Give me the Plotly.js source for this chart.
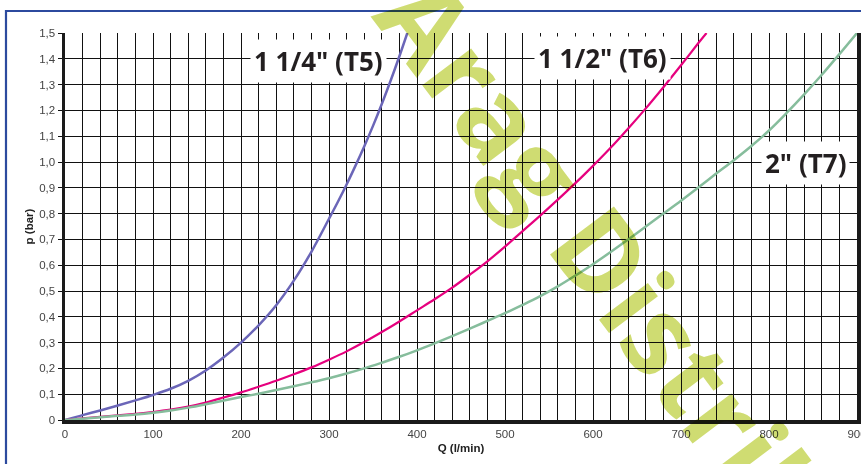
<!DOCTYPE html>
<html>
<head>
<meta charset="utf-8">
<script src="https://cdn.plot.ly/plotly-3.0.1.min.js"></script>
<style>
html,body{margin:0;padding:0;background:#fff;}
#chart{width:861px;height:464px;}
</style>
</head>
<body>
<div id="chart"></div>
<script>
// Series: 1 1/4" (T5)
var qT5 = [0,20,40,60,80,100,120,140,160,180,200,220,240,260,280,300,310,320,330,340,350,360,370,380,389];
var pT5 = [0,0.019,0.037,0.056,0.076,0.097,0.121,0.152,0.192,0.242,0.300,0.367,0.445,0.540,0.652,0.780,0.845,0.913,0.985,1.060,1.140,1.225,1.315,1.410,1.500];
// Series: 1 1/2" (T6)
var qT6 = [0,20,40,60,80,100,120,140,160,180,200,220,240,260,280,300,320,340,360,380,400,420,440,460,480,500,520,540,560,580,600,620,640,660,680,700,720,729];
var pT6 = [0,0.006,0.012,0.018,0.024,0.031,0.04,0.052,0.068,0.087,0.107,0.129,0.152,0.177,0.204,0.234,0.266,0.302,0.341,0.382,0.425,0.468,0.513,0.563,0.615,0.672,0.732,0.792,0.854,0.918,0.985,1.055,1.130,1.208,1.290,1.375,1.462,1.500];
// Series: 2" (T7)
var qT7 = [0,20,40,60,80,100,120,140,160,180,200,220,240,260,280,300,320,340,360,380,400,420,440,460,480,500,520,540,560,580,600,620,640,660,680,700,720,740,760,780,800,820,840,860,880,900];
var pT7 = [0,0.005,0.011,0.016,0.021,0.028,0.037,0.048,0.061,0.075,0.089,0.102,0.116,0.131,0.146,0.162,0.18,0.2,0.222,0.245,0.27,0.297,0.325,0.354,0.384,0.414,0.446,0.48,0.518,0.56,0.604,0.651,0.70,0.75,0.80,0.85,0.902,0.955,1.007,1.062,1.122,1.19,1.262,1.338,1.418,1.500];

var seriesNames = ['1 1/4" (T5)', '1 1/2" (T6)', '2" (T7)'];
var yTickVals = [0,0.1,0.2,0.3,0.4,0.5,0.6,0.7,0.8,0.9,1.0,1.1,1.2,1.3,1.4,1.5];
var yTickText = ['0','0,1','0,2','0,3','0,4','0,5','0,6','0,7','0,8','0,9','1,0','1,1','1,2','1,3','1,4','1,5'];
var xTickVals = [0,100,200,300,400,500,600,700,800,900];
var xTickText = ['0','100','200','300','400','500','600','700','800','900'];
var watermarkText = 'Arag Distrib';

var traces = [
  {x:qT5, y:pT5, name:seriesNames[0], mode:'lines', line:{color:'#6b66b8', width:2.5, shape:'spline', smoothing:1}},
  {x:qT6, y:pT6, name:seriesNames[1], mode:'lines', line:{color:'#e6007e', width:2.2, shape:'spline', smoothing:1}},
  {x:qT7, y:pT7, name:seriesNames[2], mode:'lines', line:{color:'#86bd9c', width:2.5, shape:'spline', smoothing:1}}
];

var labelFont = {family:'"Open Sans", sans-serif', size:26, color:'#231f20', weight:'bold'};

var layout = {
  width:861, height:464,
  margin:{l:65, r:4, t:33, b:44},
  paper_bgcolor:'#fff', plot_bgcolor:'#fff',
  showlegend:false,
  font:{family:'"Liberation Sans", Arial, sans-serif', size:11.5, color:'#444'},
  xaxis:{
    range:[0,900], tickvals:xTickVals, ticktext:xTickText,
    ticklabeloverflow:'allow',
    showgrid:true, gridcolor:'#111', gridwidth:1,
    minor:{dtick:20, showgrid:true, gridcolor:'#111', gridwidth:1},
    showline:true, linecolor:'#1a1a1a', linewidth:4, mirror:false,
    ticks:'', zeroline:false,
    title:{text:'<b>Q (l/min)</b>', font:{size:11.5, color:'#222'}, standoff:6}
  },
  yaxis:{
    range:[0,1.5], tickvals:yTickVals, ticktext:yTickText,
    showgrid:true, gridcolor:'#111', gridwidth:1,
    showline:true, linecolor:'#1a1a1a', linewidth:3.5, mirror:true,
    ticks:'outside', ticklen:4, tickcolor:'#111',
    zeroline:false,
    title:{text:'<b>p (bar)</b>', font:{size:11.5, color:'#222'}, standoff:4}
  },
  shapes:[
    {type:'rect', xref:'paper', yref:'paper', x0:-0.0745, x1:1.03, y0:-0.15, y1:1.0568,
     line:{color:'#2c4a9e', width:2.2}, fillcolor:'rgba(0,0,0,0)', layer:'below'}
  ],
  annotations:[
    {x:288.6, y:1.393, xref:'x', yref:'y', text:seriesNames[0], showarrow:false,
     font:labelFont, bgcolor:'#fff', borderpad:3, xanchor:'center', yanchor:'middle'},
    {x:611, y:1.403, xref:'x', yref:'y', text:seriesNames[1], showarrow:false,
     font:labelFont, bgcolor:'#fff', borderpad:3, xanchor:'center', yanchor:'middle'},
    {x:842, y:0.997, xref:'x', yref:'y', text:seriesNames[2], showarrow:false,
     font:labelFont, bgcolor:'#fff', borderpad:3, xanchor:'center', yanchor:'middle'},
    {x:0.682, y:0.425, xref:'paper', yref:'paper', text:watermarkText, showarrow:false,
     textangle:53, xanchor:'center', yanchor:'middle',
     font:{family:'"Open Sans", sans-serif', size:112, color:'#cfdc72', weight:'bold'}}
  ]
};

Plotly.newPlot('chart', traces, layout, {staticPlot:true}).then(function(){
  var nodes = document.querySelectorAll('.annotation');
  nodes.forEach(function(n){
    if (n.textContent.indexOf('Arag') >= 0) { n.style.mixBlendMode = 'multiply'; }
  });
});
</script>
</body>
</html>
